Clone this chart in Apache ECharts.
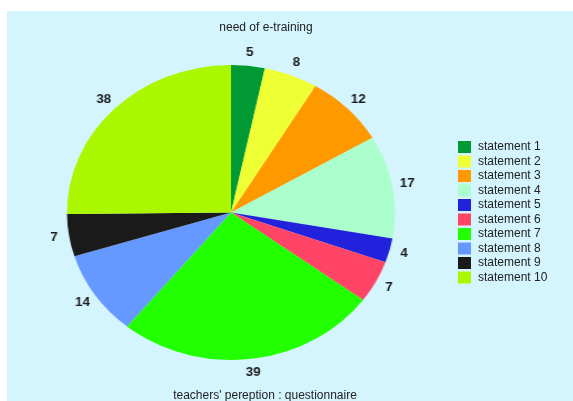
<!DOCTYPE html>
<html>
<head>
<meta charset="utf-8">
<title>need of e-training</title>
<script src="https://cdn.jsdelivr.net/npm/echarts@6.0.0/dist/echarts.min.js"></script>
<style>
    body { margin: 0; background: #fff; }
    #wrap { position: relative; width: 573px; height: 401px; overflow: hidden; }
    #panel { position: absolute; left: 7px; top: 11px; width: 566px; height: 390px; background: #d4f5fd; }
    /* the pie in the picture is an ellipse, so stretch its layer sideways */
    #pie { position: absolute; left: 0; top: 0; width: 573px; height: 401px; transform: scaleX(1.112); transform-origin: 231px 0; }
    #info { position: absolute; left: 0; top: 0; width: 573px; height: 401px; }
</style>
</head>
<body>
<div id="wrap">
    <div id="panel"></div>
    <div id="pie"></div>
    <div id="info"></div>
</div>
<script>
var statements = ['statement 1', 'statement 2', 'statement 3', 'statement 4', 'statement 5',
    'statement 6', 'statement 7', 'statement 8', 'statement 9', 'statement 10'];
var answers = [5, 8, 12, 17, 4, 7, 39, 14, 7, 38];
var sliceColors = ['#009933', '#eeff33', '#ff9900', '#aaffcc', '#2222dd',
    '#ff4466', '#22ff00', '#6699ff', '#1a1a1a', '#aaf700'];
var chartTitle = 'need of e-training';
var chartSubtitle = "teachers' pereption : questionnaire";

var pieData = [];
for (var i = 0; i < statements.length; ++i) {
    pieData.push({ name: statements[i], value: answers[i] });
}

var font = 'Liberation Sans, Arial, sans-serif';

// pie + number labels (stretched layer)
var pieChart = echarts.init(document.getElementById('pie'));
pieChart.setOption({
    animation: false,
    color: sliceColors,
    series: [{
        name: 'answers',
        type: 'pie',
        center: [231, 212.5],
        radius: 147.5,
        startAngle: 90,
        clockwise: true,
        silent: true,
        itemStyle: { borderWidth: 0 },
        label: { show: false },
        labelLine: { show: false },
        data: pieData
    }, {
        // transparent ring only used to place the numbers just outside the pie
        name: 'numbers',
        type: 'pie',
        center: [231, 212.5],
        radius: [148, 168],
        startAngle: 90,
        clockwise: true,
        silent: true,
        itemStyle: { color: 'rgba(0,0,0,0)', borderWidth: 0 },
        label: {
            show: true,
            position: 'inside',
            formatter: '{c}',
            fontFamily: font,
            fontSize: 12,
            fontWeight: 'bold',
            color: '#1a1a1a',
            textBorderWidth: 0
        },
        labelLine: { show: false },
        data: pieData
    }]
});

// titles + legend (normal layer)
var infoChart = echarts.init(document.getElementById('info'));
infoChart.setOption({
    animation: false,
    color: sliceColors,
    title: [{
        text: chartTitle,
        left: 261,
        top: 17,
        textAlign: 'center',
        textStyle: { fontFamily: font, fontSize: 12, fontWeight: 'normal', color: '#222' }
    }, {
        text: chartSubtitle,
        left: 260,
        top: 385,
        textAlign: 'center',
        textStyle: { fontFamily: font, fontSize: 12, fontWeight: 'normal', color: '#222' }
    }],
    legend: {
        orient: 'vertical',
        left: 453,
        top: 136,
        icon: 'rect',
        itemWidth: 13,
        itemHeight: 12,
        itemGap: 2.5,
        selectedMode: false,
        textStyle: { fontFamily: font, fontSize: 12, color: '#222', padding: [0, 0, 0, 2] },
        data: statements
    },
    series: [{
        name: 'answers',
        type: 'pie',
        center: [231, 212.5],
        radius: 0,
        silent: true,
        itemStyle: { borderWidth: 0 },
        label: { show: false },
        labelLine: { show: false },
        data: pieData
    }]
});
</script>
</body>
</html>
